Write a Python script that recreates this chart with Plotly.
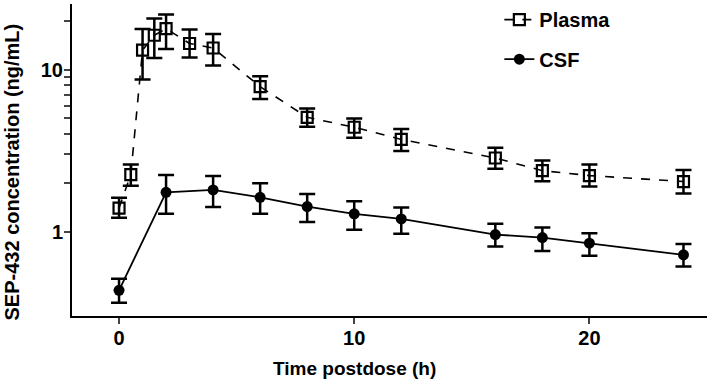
import plotly.graph_objects as go

time_plasma = [0, 0.5, 1, 1.5, 2, 3, 4, 6, 8, 10, 12, 16, 18, 20, 24]
plasma = [1.40, 2.25, 13.2, 16.3, 17.9, 14.5, 13.6, 7.85, 5.08, 4.41, 3.71, 2.85, 2.38, 2.22, 2.04]
plasma_hi = [1.62, 2.60, 17.8, 20.7, 21.9, 17.7, 16.6, 9.1, 5.75, 5.0, 4.3, 3.3, 2.75, 2.6, 2.4]
plasma_lo = [1.22, 1.92, 8.7, 11.8, 13.4, 11.9, 10.6, 6.6, 4.45, 3.8, 3.15, 2.45, 2.05, 1.9, 1.72]

time_csf = [0, 2, 4, 6, 8, 10, 12, 16, 18, 20, 24]
csf = [0.435, 1.75, 1.81, 1.63, 1.43, 1.29, 1.20, 0.96, 0.92, 0.85, 0.72]
csf_hi = [0.513, 2.24, 2.21, 1.99, 1.71, 1.54, 1.41, 1.12, 1.06, 0.98, 0.84]
csf_lo = [0.364, 1.29, 1.42, 1.29, 1.15, 1.03, 0.97, 0.81, 0.76, 0.71, 0.61]

y_tickvals = [1, 2, 3, 4, 5, 6, 7, 8, 9, 10, 20]
y_ticktext = ["1", "", "", "", "", "", "", "", "", "10", ""]
x_tickvals = [0, 10, 20]

FONT = "Liberation Sans, Arial, sans-serif"

fig = go.Figure()

def err(vals, hi, lo):
    return dict(type="data", symmetric=False,
                array=[h - v for h, v in zip(hi, vals)],
                arrayminus=[v - l for v, l in zip(vals, lo)],
                color="black", thickness=2.5, width=8)

fig.add_trace(go.Scatter(
    x=time_plasma, y=plasma, name="<b>Plasma</b>", mode="lines+markers",
    line=dict(color="black", width=1.6, dash="dash"),
    marker=dict(symbol="square-open", size=11, color="black", line=dict(width=2.2, color="black")),
    error_y=err(plasma, plasma_hi, plasma_lo),
    legend="legend",
))
fig.add_trace(go.Scatter(
    x=time_csf, y=csf, name="<b>CSF</b>", mode="lines+markers",
    line=dict(color="black", width=1.8),
    marker=dict(symbol="circle", size=11, color="black"),
    error_y=err(csf, csf_hi, csf_lo),
    legend="legend2",
))

leg_common = dict(xanchor="left", yanchor="middle",
                  font=dict(family=FONT, size=20, color="black"),
                  bgcolor="rgba(0,0,0,0)", itemwidth=30)

fig.update_layout(
    width=709, height=384,
    margin=dict(l=72, r=2, t=0, b=68),
    paper_bgcolor="white", plot_bgcolor="white",
    font=dict(family=FONT, color="black", size=18),
    showlegend=True,
    legend=dict(x=0.673, y=0.95, **leg_common),
    legend2=dict(x=0.673, y=0.823, **leg_common),
    xaxis=dict(range=[-2, 25], tickvals=x_tickvals, ticks="outside", ticklen=6,
               tickwidth=2, showline=True, linewidth=2, linecolor="black",
               showgrid=False, zeroline=False, automargin=False, ticklabelstandoff=-3,
               tickfont=dict(family=FONT, size=20, color="black", weight="bold")),
    yaxis=dict(type="log", range=[-0.52, 1.405], tickvals=y_tickvals, ticktext=y_ticktext,
               ticks="outside", ticklen=6, tickwidth=2, showline=True, linewidth=2,
               linecolor="black", showgrid=False, zeroline=False, automargin=False,
               ticklabelstandoff=-3,
               tickfont=dict(family=FONT, size=20, color="black", weight="bold")),
    annotations=[
        dict(text="<b>Time postdose (h)</b>", xref="x", x=10, yref="paper", y=0,
             yshift=-52, xanchor="center", yanchor="middle", showarrow=False,
             font=dict(family=FONT, size=19, color="black")),
        dict(text="<b>SEP-432 concentration (ng/mL)</b>", xref="paper", x=0, xshift=-60,
             yref="paper", y=0.46, xanchor="center", yanchor="middle", textangle=-90,
             showarrow=False, font=dict(family=FONT, size=20, color="black")),
    ],
)

fig.write_html("out.html", config={"displayModeBar": False},
               post_script="document.body.style.margin='0';document.body.style.overflow='hidden';")
